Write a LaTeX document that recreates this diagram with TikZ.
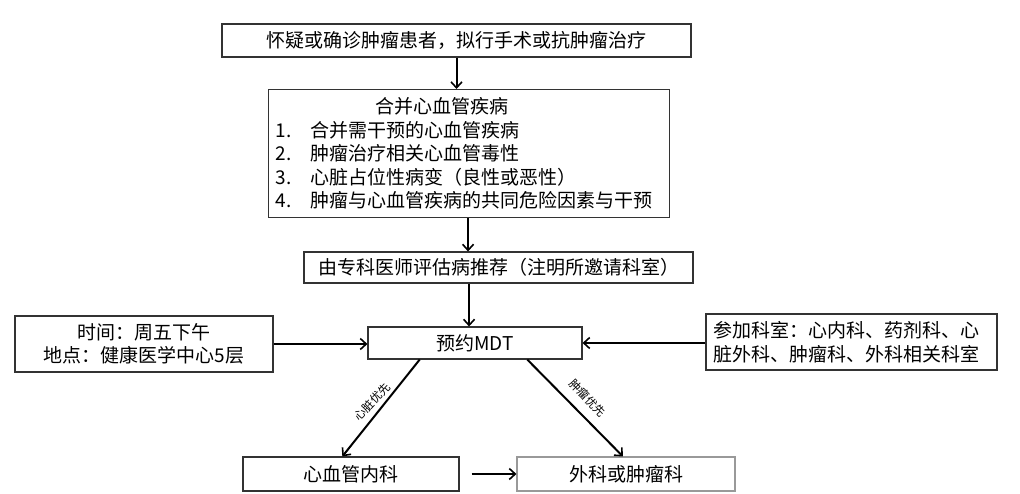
\documentclass[tikz,border=0pt]{standalone}
\usepackage{fontspec}
\setmainfont{Noto Sans CJK SC}
\usetikzlibrary{arrows.meta,calc}
\begin{document}
\begin{tikzpicture}[x=1pt,y=-1pt,
  box/.style={draw=black!80,line width=1.1pt,fill=white,inner sep=0pt,font=\fontsize{19}{23.5}\selectfont},
  lbox/.style={box,draw=black!40},
  arr/.style={draw=black,line width=2pt,-{Straight Barb[length=6pt,width=11pt,line width=1.6pt]}},
  lab/.style={font=\fontsize{11.5}{12}\selectfont,inner sep=0pt}]
\useasboundingbox (0,0) rectangle (1020,494);
\fill[white] (0,0) rectangle (1020,494);
\node[box,minimum width=469pt,minimum height=33pt] (top) at (456.5,40.5) {怀疑或确诊肿瘤患者，拟行手术或抗肿瘤治疗};
\node[box,anchor=north west,minimum height=128pt,text width=387pt,inner xsep=7pt,align=left] (b2) at (268,89)
 {\hspace*{100pt}合并心血管疾病\\
  \makebox[35pt][l]{1.}合并需干预的心血管疾病\\
  \makebox[35pt][l]{2.}肿瘤治疗相关心血管毒性\\
  \makebox[35pt][l]{3.}心脏占位性病变（良性或恶性）\\
  \makebox[35pt][l]{4.}肿瘤与心血管疾病的共同危险因素与干预};
\node[box,minimum width=389pt,minimum height=31pt] (b3) at (498.5,267.5) {由专科医师评估病推荐（注明所邀请科室）};
\node[box,minimum width=214pt,minimum height=32pt] (mdt) at (475,343) {预约MDT};
\node[box,minimum width=258pt,minimum height=56pt,align=center] (lb) at (144,344) {时间：周五下午\\地点：健康医学中心5层};
\node[box,minimum width=291pt,minimum height=56pt,text width=277pt,align=left] (rb) at (851.5,342) {参加科室：心内科、药剂科、心\\脏外科、肿瘤科、外科相关科室};
\node[box,minimum width=216pt,minimum height=34pt] (bl) at (351,474) {心血管内科};
\node[lbox,minimum width=218pt,minimum height=34pt] (br) at (626,474) {外科或肿瘤科};
\draw[arr] (top.south) -- (top.south |- b2.north);
\draw[arr] ([xshift=-1pt]b2.south) -- ([xshift=-1pt]b2.south |- b3.north);
\draw[arr] (b3.south -| b2.south) -- (mdt.north -| b2.south);
\draw[arr] (lb.east) -- (lb.east -| mdt.west);
\draw[arr] (rb.west |- mdt.east) -- (mdt.east);
\draw[arr] ($(mdt.south west)!0.243!(mdt.south east)$) -- ($(bl.north west)!0.46!(bl.north east)$);
\draw[arr] ($(mdt.south west)!0.743!(mdt.south east)$) -- ($(br.north west)!0.486!(br.north east)$);
\draw[arr] ([xshift=12pt]bl.east) -- (br.west);
\node[lab,rotate=47] (l1) at (372,402) {心脏优先};
\node[lab,rotate=-46] (l2) at (588,398) {肿瘤优先};
\end{tikzpicture}
\end{document}
